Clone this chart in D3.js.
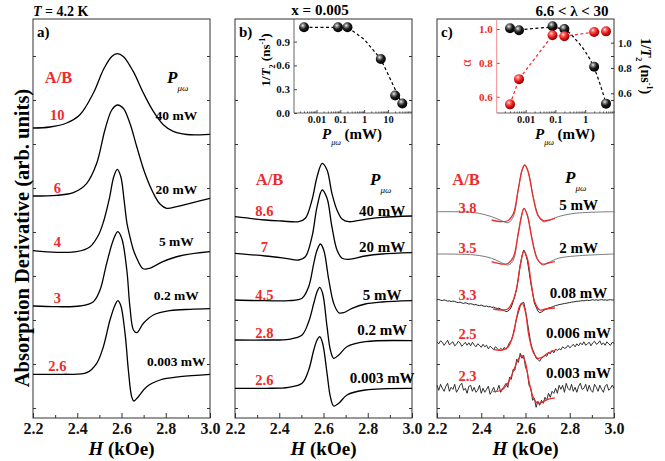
<!DOCTYPE html>
<html>
<head>
<meta charset="utf-8">
<script src="https://cdn.jsdelivr.net/npm/d3@7/dist/d3.min.js"></script>
<style>
  html, body { margin: 0; padding: 0; background: #fff; }
  svg { display: block; font-family: "Liberation Serif", "Times New Roman", serif; font-weight: bold; }
</style>
</head>
<body>
<div id="chart"></div>
<script>
"use strict";

/* ---------------- data ---------------- */
const H_TICKS = [2.2, 2.4, 2.6, 2.8, 3.0];
const H_MINOR = [2.3, 2.5, 2.7, 2.9];

// panel a) -- [H (kOe), signal relative to baseline] ; baselines in arb. units
const A_POWERS = ["40 mW", "20 mW", "5 mW", "0.2 mW", "0.003 mW"];
const A_RATIOS = ["10", "6", "4", "3", "2.6"];
const A_OFFSETS = [290, 222, 167.3, 112, 43.7];
const A_CURVES = [
  [[2.2,0],[2.277,1],[2.352,5],[2.412,13.3],[2.473,35],[2.518,58.3],[2.556,71.6],[2.581,74.3],[2.608,71.6],[2.653,56.6],[2.699,35],[2.744,16.6],[2.789,3.3],[2.834,-3.4],[2.895,-6.5],[2.955,-6.8],[3.0,-6.3]],
  [[2.2,0],[2.307,0.7],[2.382,3.3],[2.443,12.7],[2.488,32.7],[2.525,66],[2.556,86],[2.581,91],[2.608,87.7],[2.638,72.7],[2.669,49.3],[2.706,22.7],[2.744,2.7],[2.774,-8],[2.804,-12.3],[2.849,-10.7],[2.91,-7.3],[3.0,-2.3]],
  [[2.2,0],[2.307,-1.6],[2.397,-1],[2.458,4],[2.496,15.7],[2.52,30],[2.545,52],[2.565,74],[2.581,81.4],[2.597,74],[2.612,50],[2.625,27],[2.638,14],[2.652,2],[2.669,-7.6],[2.697,-18],[2.727,-17.6],[2.787,-11],[2.862,-5.3],[3.0,-1]],
  [[2.2,0],[2.307,-0.7],[2.412,0],[2.473,4.3],[2.503,16],[2.533,42.7],[2.563,66],[2.583,74.3],[2.601,67.7],[2.624,36],[2.638,-0.7],[2.654,-24],[2.669,-26.7],[2.699,-17.3],[2.744,-9],[2.819,-4.7],[2.91,-3.3],[3.0,-2.7]],
  [[2.2,0],[2.337,0],[2.443,1.6],[2.488,11],[2.518,27.6],[2.548,54.3],[2.571,69.3],[2.583,73.6],[2.596,69.3],[2.616,41],[2.631,4.3],[2.646,-22.4],[2.656,-26.7],[2.676,-22.4],[2.714,-12.4],[2.774,-5.7],[2.864,-2.4],[3.0,0]]
];

// panel b)
const B_POWERS = ["40 mW", "20 mW", "5 mW", "0.2 mW", "0.003 mW"];
const B_RATIOS = ["8.6", "7", "4.5", "2.8", "2.6"];
const B_OFFSETS = [201.3, 164.7, 118, 78, 29.7];
const B_CURVES = [
  [[2.2,0],[2.337,-3.3],[2.412,-4.3],[2.488,-5],[2.518,-1.6],[2.548,16.7],[2.571,40],[2.594,53.4],[2.616,46.7],[2.638,23.4],[2.661,6.7],[2.684,-2.3],[2.714,-5],[2.788,-2.6],[2.864,-0.6],[3.0,0.7]],
  [[2.2,0],[2.337,-2.7],[2.427,-5],[2.488,-6.7],[2.518,-3.4],[2.548,16.6],[2.571,46.6],[2.594,63.3],[2.616,55],[2.638,26.6],[2.661,3.3],[2.684,-5],[2.714,-6],[2.788,-2.7],[2.864,-0.7],[3.0,0.6]],
  [[2.2,0],[2.337,-0.7],[2.443,-0.7],[2.503,1.7],[2.533,13.3],[2.556,36.7],[2.571,50],[2.586,56],[2.601,50],[2.624,20],[2.646,-3.3],[2.669,-12.7],[2.691,-12.7],[2.729,-8.3],[2.789,-4],[2.864,-2],[3.0,-0.7]],
  [[2.2,0],[2.337,0],[2.443,0.7],[2.503,5],[2.533,18.3],[2.556,36.7],[2.571,48.3],[2.583,52.7],[2.596,46.7],[2.616,13.3],[2.631,-10],[2.646,-18.3],[2.669,-15],[2.706,-6.7],[2.789,-1.7],[3.0,-0.7]],
  [[2.2,0],[2.337,0],[2.443,1],[2.503,5],[2.533,18.3],[2.556,38.3],[2.571,48.3],[2.583,51.6],[2.596,45],[2.616,15],[2.631,-8.4],[2.646,-17.7],[2.669,-15],[2.706,-6.7],[2.789,-1.7],[3.0,0]]
];

// panel c)
const C_POWERS = ["5 mW", "2 mW", "0.08 mW", "0.006 mW", "0.003 mW"];
const C_RATIOS = ["3.8", "3.5", "3.3", "2.5", "2.3"];
const C_OFFSETS = [206.3, 164, 118, 74.7, 29.7];
const C_SMOOTH = [
  [[2.2,0],[2.372,-1],[2.447,-5],[2.492,-9],[2.522,-11],[2.545,-5],[2.567,21.7],[2.585,41.7],[2.597,46.7],[2.612,40],[2.635,15],[2.657,-3.3],[2.68,-10],[2.703,-9],[2.748,-5],[2.824,-1.6],[3.0,0]],
  [[2.2,0],[2.372,-1],[2.447,-4.3],[2.492,-8.7],[2.522,-11],[2.545,-6],[2.567,20.7],[2.583,39],[2.593,45.7],[2.608,39],[2.631,14],[2.653,-4.3],[2.676,-11],[2.703,-8.7],[2.748,-4.3],[2.824,-2],[3.0,0]]
];
// noisy traces sampled every 0.008 kOe from 2.2 to 3.0
const C_TRACE_008 = [0.3,0.6,-0.2,-0.6,0.1,-0.4,-1.2,-0.8,-1.6,-1.1,
  -1.4,-2.2,-2.6,-2.1,-2.9,-3.4,-2.8,-3.3,-4.1,-3.7,
  -4.2,-4.9,-4.5,-5.3,-5.6,-5.1,-5.9,-6.4,-6,-6.8,
  -6.6,-7.4,-7.1,-7.9,-8.4,-8.2,-9.1,-9.8,-10.6,-11.5,
  -11.2,-9.8,-7,-1.5,4,11,22,35,44,50,
  46,40,29,17,7,-3,-7,-11,-12.8,-12,
  -10.8,-9.6,-9.2,-8,-7.6,-7,-6.3,-5.5,-5.2,-4.6,
  -4.3,-3.9,-3.5,-3.3,-2.8,-2.6,-2.1,-1.9,-1.7,-1.2,
  -1.3,-0.9,-0.6,-0.9,-0.4,-0.2,-0.6,-0.1,0.3,-0.2,
  0.2,-0.3,0.1,0.4,-0.1,0.2,-0.3,0.1,0.3,0,
  0];
const C_TRACE_0006 = [1.5,-0.5,2.5,1,-2,0.5,3,-1.5,0,1.5,
  -2.5,-1,2,0.5,-3,-1,1,-2,0.5,-2.5,
  1,-1.5,-3.5,-0.5,-2,-4,-1,-3.5,-2,-5.5,
  -3,-4.5,-6.5,-3.5,-5,-7.5,-5,-6.5,-4,-6,
  -3,1,3,9,17,25,31,37,40,41,
  33,22,11,0,-6,-10,-15,-16,-18,-15,
  -14,-12,-13,-9,-10.5,-7,-9.5,-6,-7,-5.5,
  -6.5,-3.5,-5,-4.5,-2,-4.5,-3,-1,-3.5,-0.5,
  -2.5,0.5,-1.5,1.5,-2,-0.5,1,-2.5,0.5,2,
  -1,0,2.5,-1.5,0.5,-2,1.5,-0.5,-2,1,
  0];
const C_TRACE_0003 = [3,-2,4,0,-3,2,5,-3,1,-1,
  4,-4,-1,3,5,-2,0,-5,2,3,
  -3,1,-4,-2,3,-5,0,-4,-1,2,
  -6,-3,1,-4,-2,3,-4,0,2,5,
  1,11,9,19,18,29,26,35,30,33,
  21,17,3,0,-12,-10,-19,-13,-17,-12,
  -15,-9,-12,-5,-9,-3,-5,0,-5,3,
  -1,3,-4,5,0,-2,4,-3,1,-4,
  2,5,-1,0,4,-3,3,-2,-4,4,
  1,-3,3,-1,-4,2,4,-2,0,3,
  0];
const C_FITS = [
  [[2.447,-8.3],[2.49,-10],[2.52,-9],[2.545,-2],[2.567,22],[2.585,42],[2.597,46.7],[2.612,40],[2.635,14],[2.657,-4],[2.68,-9],[2.703,-8.5],[2.733,-6.6]],
  [[2.447,-7.7],[2.49,-10],[2.52,-9.5],[2.545,-3],[2.567,20],[2.583,39],[2.593,45.7],[2.608,39],[2.631,13],[2.653,-5],[2.676,-10],[2.703,-9],[2.733,-7.7]],
  [[2.454,-9],[2.49,-10],[2.52,-9],[2.545,0],[2.56,12],[2.576,34],[2.593,49],[2.61,40],[2.625,18],[2.642,-2],[2.665,-10],[2.69,-9],[2.733,-8]],
  [[2.454,-6],[2.49,-7],[2.52,-4],[2.545,9],[2.56,26],[2.575,38],[2.586,40],[2.6,31],[2.615,8],[2.635,-9],[2.655,-15],[2.675,-14],[2.7,-10],[2.733,-7]],
  [[2.454,-3.4],[2.49,-2],[2.52,5],[2.545,17],[2.567,29],[2.583,33],[2.598,27],[2.613,10],[2.635,-9],[2.655,-15],[2.675,-14],[2.7,-11],[2.733,-9.5]]
];

// insets
const INSET_B_POWER = [0.003, 0.08, 0.2, 5, 20, 40];
const INSET_B_INV_T2 = [1.08, 1.08, 1.08, 0.68, 0.22, 0.12];
const INSET_B_FIT = [[0.003,1.08],[0.2,1.08],[1,0.93],[5,0.68],[20,0.3],[40,0.1]];
const INSET_B_YTICKS = [0, 0.3, 0.6, 0.9];

const INSET_C_POWER = [0.003, 0.006, 0.08, 0.2, 2, 5];
const INSET_C_ALPHA = [0.555, 0.704, 0.963, 0.957, 0.982, 0.986];
const INSET_C_INV_T2 = [1.114, 1.098, 1.13, 1.108, 0.81, 0.518];
const INSET_C_T2_FIT = [[0.006,1.1],[0.08,1.12],[0.2,1.105],[0.5,1.02],[1,0.93],[2,0.8],[5,0.52]];
const INSET_C_ALPHA_TICKS = [0.6, 0.8, 1.0];
const INSET_C_T2_TICKS = [0.6, 0.8, 1.0];

const LOG_TICKS = [0.01, 0.1, 1, 10];

/* ---------------- layout ---------------- */
const WIDTH = 665, HEIGHT = 461;
const PANEL_LEFT = [33, 235, 437];
const PANEL_W = 177, PANEL_TOP = 19, PANEL_BOTTOM = 418;
const RED = "#ee2b2b";

const svg = d3.select("#chart").append("svg")
  .attr("width", WIDTH).attr("height", HEIGHT);

const defs = svg.append("defs");
function ball(id, stops) {
  const g = defs.append("radialGradient").attr("id", id)
    .attr("cx", "38%").attr("cy", "32%").attr("r", "68%");
  stops.forEach(s => g.append("stop").attr("offset", s[0]).attr("stop-color", s[1]));
}
ball("ballBlack", [["0%", "#f2f2f2"], ["22%", "#8a8a8a"], ["55%", "#1c1c1c"], ["100%", "#000"]]);
ball("ballRed", [["0%", "#fff4f4"], ["22%", "#ff7070"], ["60%", "#e41818"], ["100%", "#8a0000"]]);

// text helper: parts = [{t, it, sub, sup, fs, dy, normal}]
function rich(sel, parts, size) {
  let shift = 0;
  parts.forEach(p => {
    const ts = sel.append("tspan").text(p.t);
    let target = 0;
    let fs = p.fs || size;
    if (p.sub) { target = p.dy != null ? p.dy : size * 0.35; fs = p.fs || size * 0.6; }
    if (p.sup) { target = -size * 0.4; fs = p.fs || size * 0.6; }
    const dy = target - shift;
    shift = target;
    if (dy) ts.attr("dy", dy);
    ts.attr("font-size", fs);
    if (p.it) ts.attr("font-style", "italic");
    if (p.normal) ts.attr("font-weight", "normal");
  });
  return sel;
}

const Y = d3.scaleLinear().domain([0, 399]).range([PANEL_BOTTOM, PANEL_TOP]);
const X_SCALES = PANEL_LEFT.map(l => d3.scaleLinear().domain([2.2, 3.0]).range([l, l + PANEL_W]));
const H_GRID = d3.range(C_TRACE_008.length).map(i => 2.2 + i * 0.008);

function smoothLine(x, offset) {
  return d3.line().x(d => x(d[0])).y(d => Y(offset + d[1])).curve(d3.curveCatmullRom.alpha(0.5));
}

/* ---------------- frames + axes ---------------- */
PANEL_LEFT.forEach((left, i) => {
  const x = X_SCALES[i];
  const g = svg.append("g");
  g.append("g").attr("transform", `translate(0,${PANEL_BOTTOM})`)
    .call(d3.axisBottom(x).tickValues(H_TICKS).tickSize(-5).tickPadding(5).tickFormat(d3.format(".1f")))
    .call(a => a.select(".domain").remove())
    .call(a => a.selectAll("text").attr("font-size", 16).attr("font-family", "Liberation Serif").attr("font-weight", "bold").attr("fill", "#111"));
  g.append("g").attr("transform", `translate(0,${PANEL_BOTTOM})`)
    .call(d3.axisBottom(x).tickValues(H_MINOR).tickSize(-3).tickFormat(""))
    .call(a => a.select(".domain").remove());
  const yTicks = d3.range(10, 399, 44);
  g.append("g").attr("transform", `translate(${left},0)`)
    .call(d3.axisLeft(Y).tickValues(yTicks).tickSize(-3).tickFormat(""))
    .call(a => a.select(".domain").remove());
  g.append("g").attr("transform", `translate(${left + PANEL_W},0)`)
    .call(d3.axisRight(Y).tickValues(yTicks).tickSize(-3).tickFormat(""))
    .call(a => a.select(".domain").remove());
  g.selectAll(".tick line").attr("stroke", "#333");
  g.append("rect").attr("x", left).attr("y", PANEL_TOP)
    .attr("width", PANEL_W).attr("height", PANEL_BOTTOM - PANEL_TOP)
    .attr("fill", "none").attr("stroke", "#333").attr("stroke-width", 1);

  rich(g.append("text").attr("x", left + PANEL_W / 2).attr("y", 455).attr("text-anchor", "middle"),
    [{t: "H", it: true}, {t: " (kOe)"}], 19);
  g.append("text").attr("x", left + 4).attr("y", 37).attr("font-size", 15)
    .text(["a)", "b)", "c)"][i]);
});

/* ---------------- spectra ---------------- */
function drawPanel(i, curves, offsets) {
  const x = X_SCALES[i];
  svg.append("g").selectAll("path").data(curves).join("path")
    .attr("d", (d, k) => smoothLine(x, offsets[k])(d))
    .attr("fill", "none").attr("stroke", "#000").attr("stroke-width", 1.3);
}
drawPanel(0, A_CURVES, A_OFFSETS);
drawPanel(1, B_CURVES, B_OFFSETS);

// panel c: measured traces (gray / noisy) and red fits
{
  const x = X_SCALES[2];
  const gc = svg.append("g");
  C_SMOOTH.forEach((c, k) => {
    gc.append("path").attr("d", smoothLine(x, C_OFFSETS[k])(c))
      .attr("fill", "none").attr("stroke", "#6a6a6a").attr("stroke-width", 0.9);
  });
  [C_TRACE_008, C_TRACE_0006, C_TRACE_0003].forEach((tr, j) => {
    const off = C_OFFSETS[j + 2];
    const line = d3.line().x((d, n) => x(H_GRID[n])).y(d => Y(off + d));
    gc.append("path").attr("d", line(tr))
      .attr("fill", "none").attr("stroke", j === 0 ? "#222" : "#1a1a1a")
      .attr("stroke-width", j === 0 ? 1 : 0.9).attr("stroke-linejoin", "round");
  });
  C_FITS.forEach((c, k) => {
    gc.append("path").attr("d", smoothLine(x, C_OFFSETS[k])(c))
      .attr("fill", "none").attr("stroke", RED).attr("stroke-width", 1.3);
  });
}

/* ---------------- curve labels ---------------- */
const LABELS = [
  {ratios: A_RATIOS, powers: A_POWERS, rh: 2.31, ph: 2.848, fs: 13.5,
   ry: [120, 193, 247, 303, 371], py: [120, 194, 246, 300, 366], ab: [58.5, 83], pmu: [167, 83]},
  {ratios: B_RATIOS, powers: B_POWERS, rh: 2.333, ph: 2.865, fs: 15,
   ry: [216, 252, 300, 338, 385], py: [216, 252, 300, 335, 383], ab: [269.5, 185], pmu: [370, 185]},
  {ratios: C_RATIOS, powers: C_POWERS, rh: 2.338, ph: 2.84, fs: 15,
   ry: [213, 253, 300, 339, 381], py: [210, 253, 298, 338, 378], ab: [466, 185], pmu: [565, 183]}
];
LABELS.forEach((L, i) => {
  const x = X_SCALES[i];
  const g = svg.append("g");
  g.selectAll("text.ratio").data(L.ratios).join("text")
    .attr("x", x(L.rh)).attr("y", (d, k) => L.ry[k])
    .attr("text-anchor", "middle").attr("font-size", 14.5).attr("fill", RED).text(d => d);
  g.selectAll("text.power").data(L.powers).join("text")
    .attr("x", x(L.ph)).attr("y", (d, k) => L.py[k])
    .attr("text-anchor", "middle").attr("font-size", L.fs).attr("fill", "#000").text(d => d);
  g.append("text").attr("x", L.ab[0]).attr("y", L.ab[1]).attr("text-anchor", "middle")
    .attr("font-size", 16.5).attr("fill", RED).text("A/B");
  rich(g.append("text").attr("x", L.pmu[0]).attr("y", L.pmu[1]),
    [{t: "P", it: true, fs: 17}, {t: "\u03bc\u03c9", it: true, sub: true, dy: 8, fs: 9, normal: true}], 17);
});

/* ---------------- titles ---------------- */
rich(svg.append("text").attr("x", 33).attr("y", 16), [{t: "T", it: true}, {t: " = 4.2 K"}], 14);
svg.append("text").attr("x", 320).attr("y", 15).attr("text-anchor", "middle").attr("font-size", 15).text("x = 0.005");
svg.append("text").attr("x", 572).attr("y", 16).attr("text-anchor", "middle").attr("font-size", 15).text("6.6 < \u03bb < 30");
svg.append("text").attr("transform", "translate(29,238) rotate(-90)").attr("text-anchor", "middle")
  .attr("font-size", 20.5).text("Absorption Derivative (arb. units)");

/* ---------------- insets ---------------- */
function logMinor(domain) {
  const out = [];
  for (let e = -4; e <= 2; e++) for (let m = 2; m <= 9; m++) {
    const v = m * Math.pow(10, e);
    if (v > domain[0] && v < domain[1]) out.push(v);
  }
  return out;
}
function styleAxisText(a, fs, color) {
  a.selectAll("text").attr("font-size", fs).attr("font-family", "Liberation Serif")
    .attr("font-weight", "bold").attr("fill", color || "#111");
  a.select(".domain").remove();
}
const tickFmt = d => (d >= 1 ? d3.format("d")(d) : String(d));

// inset b
{
  const left = 294, right = PANEL_LEFT[1] + PANEL_W, bottom = 113;
  const xl = d3.scaleLog().domain([0.00114, 102]).range([left, right]);
  const yl = d3.scaleLinear().domain([0, 1.185]).range([bottom, PANEL_TOP]);
  const g = svg.append("g");
  g.append("g").attr("transform", `translate(0,${bottom})`)
    .call(d3.axisBottom(xl).tickValues(LOG_TICKS).tickSize(-3).tickPadding(3).tickFormat(tickFmt))
    .call(a => styleAxisText(a, 10.5));
  g.append("g").attr("transform", `translate(0,${bottom})`)
    .call(d3.axisBottom(xl).tickValues(logMinor(xl.domain())).tickSize(-1.5).tickFormat(""))
    .call(a => a.select(".domain").remove());
  g.append("g").attr("transform", `translate(${left},0)`)
    .call(d3.axisLeft(yl).tickValues(INSET_B_YTICKS).tickSize(-3).tickPadding(4).tickFormat(d3.format(".1f")))
    .call(a => styleAxisText(a, 11));
  g.selectAll(".tick line").attr("stroke", "#444");
  g.append("path").attr("d", `M${left},${PANEL_TOP}V${bottom}H${right}`)
    .attr("fill", "none").attr("stroke", "#555").attr("stroke-width", 0.9);
  g.append("path").datum(INSET_B_FIT)
    .attr("d", d3.line().x(d => xl(d[0])).y(d => yl(d[1])))
    .attr("fill", "none").attr("stroke", "#000").attr("stroke-width", 1.2).attr("stroke-dasharray", "3,2.5");
  g.selectAll("circle").data(INSET_B_POWER).join("circle")
    .attr("cx", d => xl(d)).attr("cy", (d, k) => yl(INSET_B_INV_T2[k])).attr("r", 5)
    .attr("fill", "url(#ballBlack)");
  rich(g.append("text").attr("x", 352).attr("y", 139).attr("text-anchor", "middle"),
    [{t: "P", it: true}, {t: "\u03bc\u03c9", it: true, sub: true, dy: 6, fs: 8, normal: true}, {t: " (mW)"}], 15);
  rich(g.append("text").attr("transform", "translate(270,60) rotate(-90)").attr("text-anchor", "middle"),
    [{t: "1/"}, {t: "T", it: true}, {t: "2", sub: true, fs: 8}, {t: " (ns"}, {t: "-1", sup: true, fs: 8}, {t: ")"}], 13);
}

// inset c
{
  const left = 496.7, right = PANEL_LEFT[2] + PANEL_W, bottom = 113;
  const xl = d3.scaleLog().domain([0.00107, 9.27]).range([left, right]);
  const ya = d3.scaleLinear().domain([0.504, 1.059]).range([bottom, PANEL_TOP]);
  const yt = d3.scaleLinear().domain([0.444, 1.187]).range([bottom, PANEL_TOP]);
  const g = svg.append("g");
  g.append("g").attr("transform", `translate(0,${bottom})`)
    .call(d3.axisBottom(xl).tickValues(LOG_TICKS.slice(0, 3)).tickSize(-3).tickPadding(3).tickFormat(tickFmt))
    .call(a => styleAxisText(a, 10.5));
  g.append("g").attr("transform", `translate(0,${bottom})`)
    .call(d3.axisBottom(xl).tickValues(logMinor(xl.domain())).tickSize(-1.5).tickFormat(""))
    .call(a => a.select(".domain").remove());
  g.selectAll(".tick line").attr("stroke", "#444");
  g.append("g").attr("transform", `translate(${left},0)`)
    .call(d3.axisLeft(ya).tickValues(INSET_C_ALPHA_TICKS).tickSize(-3).tickPadding(4).tickFormat(d3.format(".1f")))
    .call(a => styleAxisText(a, 11, RED))
    .call(a => a.selectAll(".tick line").attr("stroke", RED));
  g.append("g").attr("transform", `translate(${right},0)`)
    .call(d3.axisRight(yt).tickValues(INSET_C_T2_TICKS).tickSize(-3).tickPadding(4).tickFormat(d3.format(".1f")))
    .call(a => styleAxisText(a, 11))
    .call(a => a.selectAll(".tick line").attr("stroke", "#333"));
  g.append("path").attr("d", `M${left},${bottom}H${right}`)
    .attr("fill", "none").attr("stroke", "#555").attr("stroke-width", 0.9);
  g.append("path").attr("d", `M${left},${PANEL_TOP}V${bottom}`)
    .attr("fill", "none").attr("stroke", "#f08a8a").attr("stroke-width", 1);

  g.append("path").datum(INSET_C_T2_FIT)
    .attr("d", d3.line().x(d => xl(d[0])).y(d => yt(d[1])).curve(d3.curveMonotoneX))
    .attr("fill", "none").attr("stroke", "#000").attr("stroke-width", 1.2).attr("stroke-dasharray", "3,2.5");
  g.append("path").datum(INSET_C_POWER)
    .attr("d", d3.line().x(d => xl(d)).y((d, k) => ya(INSET_C_ALPHA[k])))
    .attr("fill", "none").attr("stroke", RED).attr("stroke-width", 1.2).attr("stroke-dasharray", "3,2.5");
  g.append("g").selectAll("circle").data(INSET_C_POWER).join("circle")
    .attr("cx", d => xl(d)).attr("cy", (d, k) => yt(INSET_C_INV_T2[k])).attr("r", 5)
    .attr("fill", "url(#ballBlack)");
  g.append("g").selectAll("circle").data(INSET_C_POWER).join("circle")
    .attr("cx", d => xl(d)).attr("cy", (d, k) => ya(INSET_C_ALPHA[k])).attr("r", 5)
    .attr("fill", "url(#ballRed)");

  rich(g.append("text").attr("x", 565).attr("y", 139).attr("text-anchor", "middle"),
    [{t: "P", it: true}, {t: "\u03bc\u03c9", it: true, sub: true, dy: 6, fs: 8, normal: true}, {t: " (mW)"}], 15);
  g.append("text").attr("transform", "translate(471,63) rotate(-90)").attr("text-anchor", "middle")
    .attr("font-size", 14).attr("font-weight", "normal").attr("fill", RED).text("\u03b1");
  rich(g.append("text").attr("transform", "translate(641,66) rotate(90)").attr("text-anchor", "middle"),
    [{t: "1/"}, {t: "T", it: true}, {t: "2", sub: true, fs: 8}, {t: " (ns"}, {t: "-1", sup: true, fs: 8}, {t: ")"}], 14);
}
</script>
</body>
</html>
